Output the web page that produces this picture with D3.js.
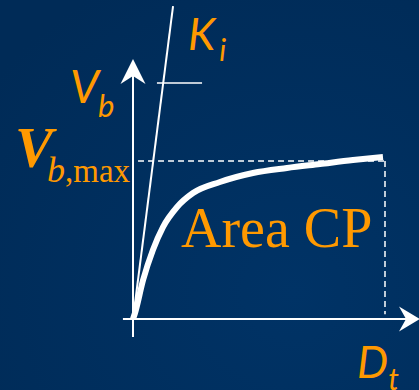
<!DOCTYPE html>
<html>
<head>
<meta charset="utf-8">
<script src="https://cdn.jsdelivr.net/npm/d3@7"></script>
<style>
  html, body { margin: 0; padding: 0; background: #003366; }
  svg { display: block; }
</style>
</head>
<body>
<div id="chart"></div>
<script>
// Curve of V_b against D_t, normalised so that V_b,max = 1 and the dashed end = 1
const curveX = [0, 0.008, 0.04, 0.079, 0.119, 0.175, 0.238, 0.345, 0.476, 0.611, 0.742, 0.873, 0.992];
const curveY = [0, 0.038, 0.247, 0.437, 0.582, 0.709, 0.797, 0.867, 0.924, 0.956, 0.981, 1.006, 1.025];

// Initial slope K_i (line through origin) and the reference levels
const kiSlope = 12.46;
const kiTop = 1.98;
const vbMax = 1;
const dtEnd = 1;

const width = 419, height = 390;
const orange = "#ff9900";
const sans = "Lato, 'Open Sans', sans-serif";
const serif = "'Liberation Serif', 'Times New Roman', serif";

const svg = d3.select("#chart").append("svg")
    .attr("width", width)
    .attr("height", height);

// Background gradient
const defs = svg.append("defs");
const grad = defs.append("radialGradient")
    .attr("id", "bg")
    .attr("cx", "70%").attr("cy", "75%").attr("r", "90%");
grad.append("stop").attr("offset", "0%").attr("stop-color", "#003366");
grad.append("stop").attr("offset", "100%").attr("stop-color", "#002b57");
svg.append("rect").attr("width", width).attr("height", height).attr("fill", "url(#bg)");

const x = d3.scaleLinear().domain([0, 1]).range([133, 385]);
const y = d3.scaleLinear().domain([0, 1]).range([319, 161]);

// Axes
svg.append("line")
    .attr("x1", x(0)).attr("x2", x(0))
    .attr("y1", y(-0.114)).attr("y2", y(1.56))
    .attr("stroke", "#fff").attr("stroke-width", 2);
svg.append("line")
    .attr("x1", x(-0.04)).attr("x2", x(1.12))
    .attr("y1", y(0)).attr("y2", y(0))
    .attr("stroke", "#fff").attr("stroke-width", 2);

// Arrow heads
const ty = y(1.646), tx = x(0);
svg.append("path")
    .attr("d", `M${tx},${ty} L${tx + 12.5},${ty + 25} L${tx},${ty + 17} L${tx - 12.5},${ty + 25} Z`)
    .attr("fill", "#fff");
const ax = 420, ay = y(0);
svg.append("path")
    .attr("d", `M${ax},${ay} L${ax - 21},${ay - 12.5} L${ax - 14},${ay} L${ax - 21},${ay + 12.5} Z`)
    .attr("fill", "#fff");

// K_i line and its tick
svg.append("line")
    .attr("x1", x(0)).attr("y1", y(0))
    .attr("x2", x(kiTop / kiSlope)).attr("y2", y(kiTop))
    .attr("stroke", "#fff").attr("stroke-width", 2);
svg.append("line")
    .attr("x1", x(0.095)).attr("x2", x(0.274))
    .attr("y1", y(1.494)).attr("y2", y(1.494))
    .attr("stroke", "#fff").attr("stroke-width", 1.6);

// Dashed guides
svg.append("line")
    .attr("x1", x(0.02)).attr("x2", x(dtEnd))
    .attr("y1", y(vbMax)).attr("y2", y(vbMax))
    .attr("stroke", "#fff").attr("stroke-width", 1.5)
    .attr("stroke-dasharray", "6,4");
svg.append("line")
    .attr("x1", x(dtEnd)).attr("x2", x(dtEnd))
    .attr("y1", y(vbMax)).attr("y2", y(0.03))
    .attr("stroke", "#fff").attr("stroke-width", 1.5)
    .attr("stroke-dasharray", "6,4");

// Curve
const pts = curveX.map((d, i) => [d, curveY[i]]);
svg.append("path")
    .datum(pts)
    .attr("d", d3.line().x(d => x(d[0])).y(d => y(d[1])).curve(d3.curveMonotoneX))
    .attr("fill", "none")
    .attr("stroke", "#fff")
    .attr("stroke-width", 6)
    .attr("stroke-linecap", "butt");

// Labels
function label(px, py, parts) {
    const t = svg.append("text").attr("x", px).attr("y", py).attr("fill", orange);
    parts.forEach(p => {
        const s = t.append("tspan").text(p.text)
            .attr("font-family", p.family)
            .attr("font-size", p.size)
            .attr("font-style", p.style || "normal")
            .attr("font-weight", p.weight || "normal");
        if (p.dx !== undefined) s.attr("dx", p.dx);
        if (p.dy !== undefined) s.attr("dy", p.dy);
    });
}

label(188, 50, [
    { text: "K", family: sans, size: 44, style: "italic" },
    { text: "i", family: sans, size: 30, style: "italic", dx: 4, dy: 11 }
]);
label(70, 103, [
    { text: "V", family: sans, size: 46, style: "italic" },
    { text: "b", family: sans, size: 31, style: "italic", dx: -1, dy: 14 }
]);
label(15, 167, [
    { text: "V", family: serif, size: 57, style: "italic", weight: "bold" },
    { text: "b", family: serif, size: 36, style: "italic", dx: -6, dy: 15 },
    { text: ",max", family: serif, size: 33 }
]);
label(181, 247, [
    { text: "Area CP", family: serif, size: 56 }
]);
label(357, 378, [
    { text: "D", family: sans, size: 44, style: "italic" },
    { text: "t", family: sans, size: 30, style: "italic", dx: 0, dy: 12 }
]);
</script>
</body>
</html>
